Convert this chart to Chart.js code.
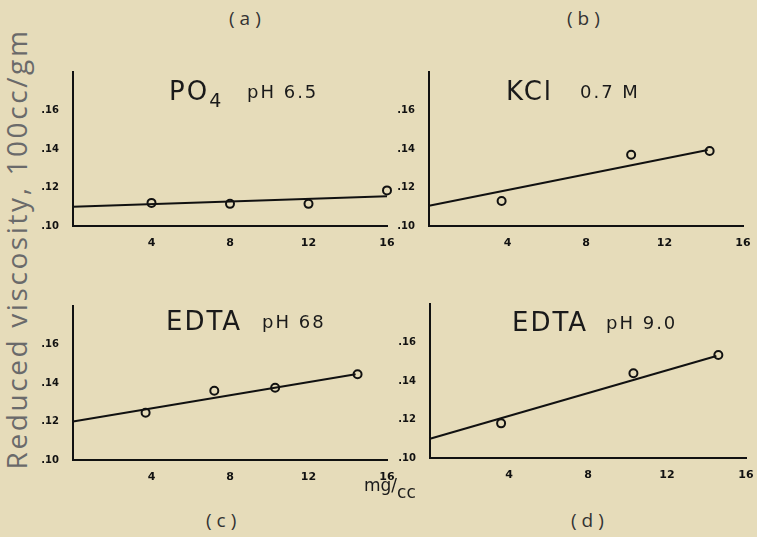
<!DOCTYPE html>
<html>
<head>
<meta charset="utf-8">
<script src="https://cdn.jsdelivr.net/npm/chart.js@4"></script>
<style>
  body { margin:0; background:#e6dcba; }
  #wrap { position:relative; width:757px; height:537px; background:#e6dcba; overflow:hidden; font-family:"DejaVu Sans", sans-serif; color:#1a1a1a; }
  canvas { position:absolute; }
  #ca { left:40px; top:60px; }
  #cb { left:396px; top:60px; }
  #cc { left:40px; top:294px; }
  #cd { left:397px; top:292px; }
  .lbl { position:absolute; white-space:nowrap; line-height:1; }
  .big { font-size:26px; letter-spacing:2px; }
  .small { font-size:18px; letter-spacing:2px; }
  .tag { font-size:19px; color:#333; font-family:"Open Sans", sans-serif; letter-spacing:5px; }
  #ylab { position:absolute; left:16px; top:249px; transform:translate(-50%,-50%) rotate(-90deg); font-size:28px; color:#6a6a6a; white-space:nowrap; font-family:"Open Sans", sans-serif; letter-spacing:2.6px; line-height:1; }
</style>
</head>
<body>
<div id="wrap">
  <canvas id="ca" width="360" height="200"></canvas>
  <canvas id="cb" width="360" height="200"></canvas>
  <canvas id="cc" width="360" height="200"></canvas>
  <canvas id="cd" width="360" height="200"></canvas>

  <div id="ylab">Reduced viscosity, 100cc/gm</div>

  <div class="lbl tag" style="left:229px; top:9px;">(a)</div>
  <div class="lbl tag" style="left:567px; top:9px;">(b)</div>
  <div class="lbl tag" style="left:206px; top:511px;">(c)</div>
  <div class="lbl tag" style="left:571px; top:511px;">(d)</div>

  <div class="lbl big" style="left:169px; top:78px;">PO<span style="font-size:19px; position:relative; top:7px;">4</span></div>
  <div class="lbl small" style="left:247px; top:83px;">pH 6.5</div>
  <div class="lbl big" style="left:506px; top:78px;">KCl</div>
  <div class="lbl small" style="left:580px; top:83px;">0.7 M</div>
  <div class="lbl big" style="left:166px; top:308px;">EDTA</div>
  <div class="lbl small" style="left:262px; top:313px;">pH 68</div>
  <div class="lbl big" style="left:512px; top:309px;">EDTA</div>
  <div class="lbl small" style="left:606px; top:314px;">pH 9.0</div>

  <div class="lbl" style="left:364px; top:477px; font-size:17px;">mg/<span style="position:relative; top:7px;">cc</span></div>
</div>

<script>
// axes
const xTicks = [4, 8, 12, 16];
const yTicks = [0.10, 0.12, 0.14, 0.16];

// (a) PO4 pH 6.5
const aX = [4, 8, 12, 16];
const aY = [0.112, 0.1115, 0.1115, 0.1185];
const aFitX = [0, 16];
const aFitY = [0.110, 0.1155];

// (b) KCl 0.7 M
const bX = [3.7, 10.3, 14.3];
const bY = [0.113, 0.137, 0.139];
const bFitX = [0, 14.2];
const bFitY = [0.1105, 0.1395];

// (c) EDTA pH 6.8
const cX = [3.7, 7.2, 10.3, 14.5];
const cY = [0.1245, 0.136, 0.1375, 0.1445];
const cFitX = [0, 14.4];
const cFitY = [0.120, 0.1445];

// (d) EDTA pH 9.0
const dX = [3.6, 10.3, 14.6];
const dY = [0.118, 0.144, 0.1535];
const dFitX = [0, 14.5];
const dFitY = [0.110, 0.153];

const bg = '#e6dcba';
const ink = '#111';

function pts(xs, ys) {
    return xs.map((x, i) => ({x: x, y: ys[i]}));
}

function makePanel(id, xs, ys, fx, fy, rightPad) {
    let ctx = document.getElementById(id).getContext('2d');
    new Chart(ctx, {
        type: 'scatter',
        data: {
            datasets: [{
                label: 'fit',
                data: pts(fx, fy),
                showLine: true,
                borderColor: ink,
                borderWidth: 2,
                pointRadius: 0,
                clip: false
            },
            {
                label: 'data',
                data: pts(xs, ys),
                borderColor: ink,
                backgroundColor: bg,
                borderWidth: 2,
                pointRadius: 4,
                clip: false
            }]
        },
        options: {
            responsive: false,
            animation: false,
            layout: { padding: { left: 0, top: 10, right: rightPad, bottom: 4 } },
            plugins: { legend: { display: false }, tooltip: { enabled: false } },
            scales: {
                x: {
                    type: 'linear',
                    min: 0, max: 16,
                    afterBuildTicks: s => { s.ticks = xTicks.map(v => ({value: v})); },
                    afterFit: s => { s.height = 30; },
                    grid: { display: false },
                    border: { display: true, color: ink, width: 2 },
                    ticks: {
                        color: ink,
                        padding: 3,
                        font: { family: 'DejaVu Sans', size: 11, weight: 'bold' }
                    }
                },
                y: {
                    min: 0.10, max: 0.18,
                    afterBuildTicks: s => { s.ticks = yTicks.map(v => ({value: v})); },
                    afterFit: s => { s.width = 33; },
                    grid: { display: false },
                    border: { display: true, color: ink, width: 2 },
                    ticks: {
                        color: ink,
                        padding: 6,
                        font: { family: 'DejaVu Sans', size: 10, weight: 'bold' },
                        callback: v => '.' + Math.round(v * 100)
                    }
                }
            }
        }
    });
}

makePanel('ca', aX, aY, aFitX, aFitY, 13);
makePanel('cb', bX, bY, bFitX, bFitY, 13);
makePanel('cc', cX, cY, cFitX, cFitY, 13);
makePanel('cd', dX, dY, dFitX, dFitY, 11);
</script>
</body>
</html>
